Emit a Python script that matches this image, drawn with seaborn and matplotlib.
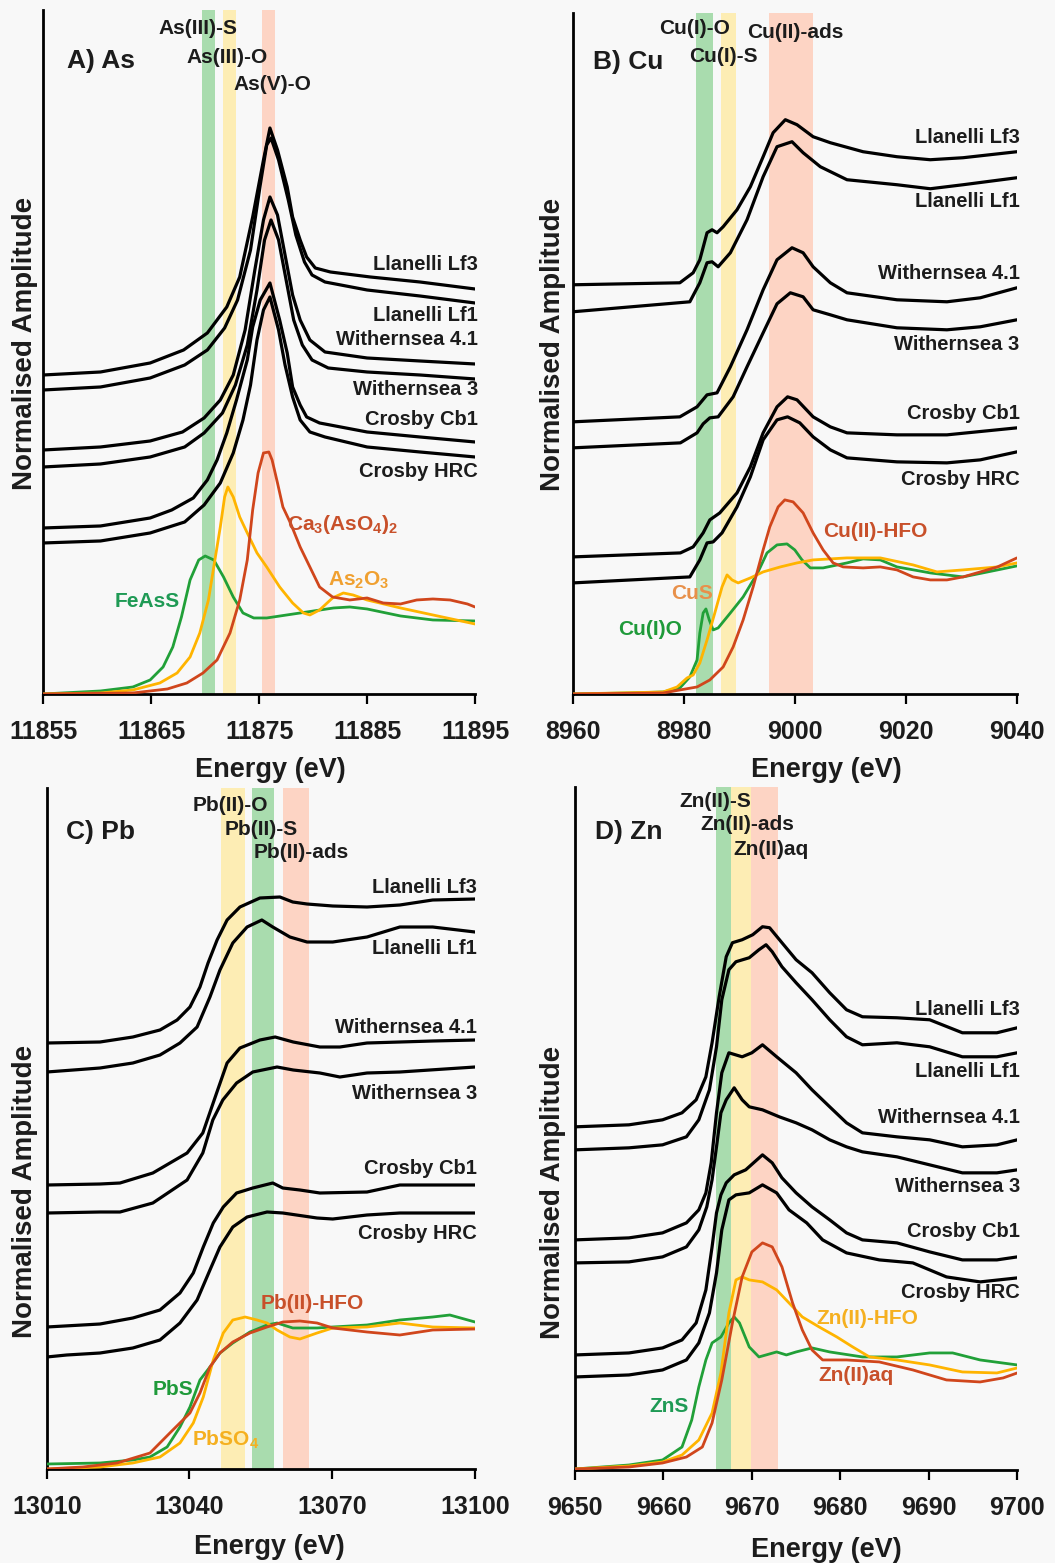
import matplotlib
matplotlib.use("Agg")
import matplotlib.pyplot as plt
import seaborn as sns

# ---------------- Panel A : As K-edge ----------------
AS_XTICKS = [11855, 11865, 11875, 11885, 11895]
AS_LF3_E = [11855, 11860.3, 11864.9, 11868.0, 11870.2, 11872.0, 11873.2, 11874.4, 11875.4, 11876.0, 11876.7, 11877.6, 11878.1, 11878.8, 11879.4, 11880.2, 11881.6, 11885.3, 11889.9, 11895]
AS_LF3_Y = [3.19, 3.22, 3.31, 3.44, 3.61, 3.87, 4.17, 4.77, 5.34, 5.66, 5.44, 5.07, 4.77, 4.54, 4.37, 4.26, 4.22, 4.17, 4.12, 4.05]
AS_LF1_E = [11855, 11860.3, 11864.9, 11868.1, 11870.2, 11871.8, 11873.0, 11874.2, 11875.1, 11875.7, 11876.1, 11876.8, 11877.7, 11878.4, 11879.2, 11879.9, 11881.1, 11885.0, 11889.9, 11895]
AS_LF1_Y = [3.04, 3.07, 3.16, 3.29, 3.44, 3.66, 3.94, 4.44, 5.09, 5.49, 5.56, 5.34, 4.94, 4.59, 4.32, 4.19, 4.12, 4.04, 3.98, 3.91]
AS_W41_E = [11855, 11860.3, 11864.9, 11867.9, 11869.9, 11871.4, 11872.6, 11873.7, 11874.6, 11875.4, 11876.0, 11876.7, 11877.4, 11878.1, 11878.8, 11879.7, 11881.1, 11885.0, 11889.9, 11895]
AS_W41_Y = [2.44, 2.47, 2.53, 2.62, 2.76, 2.94, 3.19, 3.64, 4.24, 4.74, 4.97, 4.79, 4.39, 3.99, 3.74, 3.54, 3.42, 3.36, 3.33, 3.30]
AS_W3_E = [11855, 11860.3, 11864.9, 11868.1, 11869.9, 11871.6, 11872.8, 11873.9, 11874.8, 11875.5, 11876.1, 11876.8, 11877.5, 11878.2, 11879.0, 11879.9, 11881.4, 11885.0, 11889.9, 11895]
AS_W3_Y = [2.27, 2.30, 2.37, 2.47, 2.61, 2.81, 3.09, 3.49, 4.04, 4.54, 4.74, 4.54, 4.14, 3.74, 3.49, 3.34, 3.26, 3.22, 3.19, 3.15]
AS_CB1_E = [11855, 11860.3, 11864.9, 11866.9, 11868.9, 11870.2, 11871.1, 11872.0, 11872.9, 11873.9, 11874.4, 11875.1, 11876.0, 11876.9, 11877.6, 11878.1, 11878.8, 11879.4, 11880.6, 11885.0, 11889.9, 11895]
AS_CB1_Y = [1.66, 1.68, 1.76, 1.84, 1.96, 2.14, 2.34, 2.61, 2.94, 3.34, 3.67, 3.94, 4.11, 3.74, 3.41, 3.07, 2.89, 2.77, 2.71, 2.62, 2.57, 2.52]
AS_HRC_E = [11855, 11860.3, 11864.9, 11868.1, 11869.9, 11871.4, 11872.6, 11873.5, 11874.2, 11874.8, 11875.4, 11876.0, 11876.8, 11877.4, 11878.1, 11878.8, 11879.7, 11881.1, 11885.0, 11889.9, 11895]
AS_HRC_Y = [1.51, 1.53, 1.61, 1.72, 1.89, 2.11, 2.41, 2.74, 3.09, 3.54, 3.84, 3.97, 3.64, 3.29, 2.97, 2.74, 2.62, 2.57, 2.47, 2.42, 2.37]
AS_FEASS_E = [11855, 11860.3, 11863.3, 11864.9, 11866.1, 11867.0, 11867.8, 11868.6, 11869.4, 11870.0, 11870.8, 11871.7, 11872.6, 11873.5, 11874.5, 11875.7, 11878.8, 11881.9, 11883.4, 11885.0, 11888.1, 11891.1, 11895]
AS_FEASS_Y = [0.00, 0.03, 0.07, 0.14, 0.27, 0.47, 0.77, 1.14, 1.34, 1.38, 1.34, 1.17, 0.97, 0.81, 0.76, 0.76, 0.81, 0.86, 0.87, 0.85, 0.78, 0.74, 0.73]
AS_AS2O3_E = [11855, 11860.3, 11863.3, 11865.8, 11867.4, 11868.6, 11869.5, 11870.3, 11870.9, 11871.4, 11871.8, 11872.1, 11872.6, 11873.2, 11873.9, 11874.8, 11875.7, 11876.9, 11878.1, 11879.1, 11879.7, 11880.6, 11881.8, 11882.8, 11883.7, 11885.0, 11888.1, 11891.1, 11895]
AS_AS2O3_Y = [0.00, 0.01, 0.04, 0.11, 0.21, 0.37, 0.61, 0.94, 1.34, 1.67, 1.97, 2.07, 1.97, 1.77, 1.61, 1.41, 1.27, 1.07, 0.91, 0.81, 0.79, 0.84, 0.96, 1.01, 0.99, 0.94, 0.86, 0.79, 0.70]
AS_CAAS_E = [11855, 11863.3, 11866.5, 11868.3, 11869.8, 11871.1, 11872.3, 11873.2, 11873.9, 11874.4, 11874.9, 11875.4, 11875.9, 11876.2, 11876.7, 11877.2, 11877.9, 11878.8, 11879.7, 11880.6, 11881.8, 11883.4, 11885.0, 11886.5, 11888.1, 11889.6, 11891.1, 11892.7, 11894.3, 11895]
AS_CAAS_Y = [0.00, 0.01, 0.05, 0.11, 0.21, 0.34, 0.61, 0.94, 1.34, 1.84, 2.21, 2.41, 2.42, 2.34, 2.11, 1.87, 1.71, 1.47, 1.27, 1.07, 0.97, 0.94, 0.96, 0.91, 0.90, 0.94, 0.95, 0.94, 0.90, 0.87]

# ---------------- Panel B : Cu K-edge ----------------
CU_XTICKS = [8960, 8980, 9000, 9020, 9040]
CU_LF3_E = [8960, 8979.3, 8981.7, 8982.9, 8984.2, 8985.1, 8986.0, 8987.1, 8989.6, 8992.0, 8994.3, 8996.1, 8998.3, 9000.4, 9003.3, 9006.4, 9012.3, 9018.4, 9024.4, 9030.3, 9040]
CU_LF3_Y = [4.09, 4.11, 4.21, 4.34, 4.61, 4.64, 4.61, 4.67, 4.84, 5.07, 5.37, 5.61, 5.74, 5.69, 5.57, 5.51, 5.42, 5.37, 5.34, 5.36, 5.42]
CU_LF1_E = [8960, 8981.1, 8982.9, 8984.2, 8985.1, 8986.2, 8988.4, 8991.4, 8994.3, 8996.8, 8999.5, 9001.5, 9004.6, 9009.4, 9018.4, 9024.4, 9030.3, 9040]
CU_LF1_Y = [3.82, 3.92, 4.11, 4.31, 4.32, 4.27, 4.41, 4.74, 5.17, 5.47, 5.52, 5.41, 5.27, 5.14, 5.09, 5.05, 5.09, 5.16]
CU_W41_E = [8960, 8979.3, 8982.4, 8984.2, 8986.0, 8988.4, 8991.4, 8994.3, 8996.8, 8999.5, 9001.5, 9003.3, 9006.4, 9009.4, 9018.4, 9027.4, 9033.4, 9040]
CU_W41_Y = [2.72, 2.77, 2.87, 2.99, 3.01, 3.27, 3.64, 4.04, 4.34, 4.46, 4.41, 4.27, 4.11, 4.01, 3.94, 3.92, 3.96, 4.06]
CU_W3_E = [8960, 8979.4, 8982.4, 8983.5, 8984.7, 8986.2, 8988.9, 8991.4, 8994.3, 8996.8, 8999.2, 9001.5, 9003.3, 9006.4, 9009.4, 9018.4, 9027.4, 9033.4, 9040]
CU_W3_Y = [2.46, 2.51, 2.61, 2.70, 2.76, 2.77, 2.97, 3.27, 3.61, 3.90, 4.01, 3.97, 3.84, 3.79, 3.74, 3.66, 3.64, 3.67, 3.74]
CU_CB1_E = [8960, 8979.4, 8981.7, 8983.5, 8984.7, 8986.5, 8989.6, 8992.0, 8994.3, 8996.8, 8998.7, 9000.4, 9003.3, 9006.4, 9009.4, 9018.4, 9027.4, 9040]
CU_CB1_Y = [1.37, 1.41, 1.47, 1.61, 1.74, 1.81, 2.01, 2.27, 2.61, 2.87, 2.97, 2.94, 2.77, 2.67, 2.61, 2.59, 2.59, 2.66]
CU_HRC_E = [8960, 8981.1, 8982.9, 8984.2, 8985.3, 8986.9, 8989.6, 8992.0, 8994.3, 8996.8, 8998.7, 9000.9, 9003.3, 9006.4, 9009.4, 9018.4, 9027.4, 9033.4, 9040]
CU_HRC_Y = [1.11, 1.17, 1.34, 1.51, 1.52, 1.61, 1.87, 2.17, 2.54, 2.74, 2.77, 2.71, 2.57, 2.44, 2.36, 2.32, 2.31, 2.34, 2.42]
CU_HFO_E = [8960, 8976.3, 8979.3, 8982.4, 8984.7, 8987.1, 8988.9, 8990.7, 8992.5, 8994.3, 8995.5, 8997.0, 8998.2, 8999.7, 9001.5, 9003.3, 9005.1, 9006.9, 9008.7, 9012.3, 9015.4, 9018.4, 9021.3, 9024.4, 9027.4, 9030.3, 9036.5, 9040]
CU_HFO_Y = [0.00, 0.01, 0.04, 0.07, 0.14, 0.27, 0.47, 0.74, 1.07, 1.44, 1.67, 1.87, 1.94, 1.92, 1.81, 1.61, 1.44, 1.31, 1.27, 1.26, 1.27, 1.24, 1.17, 1.14, 1.14, 1.17, 1.27, 1.36]
CU_CU2O_E = [8960, 8970.3, 8976.3, 8979.3, 8981.1, 8982.4, 8982.9, 8983.5, 8984.0, 8984.6, 8985.3, 8986.2, 8988.4, 8990.7, 8993.3, 8995.0, 8996.8, 8998.6, 9000.0, 9001.3, 9002.8, 9005.1, 9009.4, 9012.3, 9015.4, 9018.4, 9024.4, 9030.3, 9036.5, 9040]
CU_CU2O_Y = [0.00, 0.01, 0.02, 0.06, 0.17, 0.34, 0.61, 0.81, 0.85, 0.74, 0.64, 0.66, 0.81, 0.97, 1.21, 1.41, 1.49, 1.50, 1.44, 1.34, 1.26, 1.26, 1.31, 1.35, 1.34, 1.27, 1.21, 1.17, 1.24, 1.28]
CU_CUS_E = [8960, 8976.3, 8978.8, 8980.6, 8981.7, 8982.9, 8984.2, 8985.6, 8986.9, 8987.8, 8988.7, 8989.8, 8992.0, 8994.3, 8997.4, 9000.4, 9003.3, 9009.4, 9015.4, 9021.3, 9025.6, 9030.3, 9036.5, 9040]
CU_CUS_Y = [0.00, 0.02, 0.07, 0.16, 0.19, 0.31, 0.54, 0.81, 1.07, 1.19, 1.14, 1.11, 1.16, 1.22, 1.27, 1.31, 1.34, 1.36, 1.36, 1.29, 1.22, 1.24, 1.27, 1.31]

# ---------------- Panel C : Pb L3-edge ----------------
PB_XTICKS = [13010, 13040, 13070, 13100]
PB_LF3_E = [13010, 13021.2, 13028.1, 13033.8, 13037.4, 13040.1, 13042.2, 13043.9, 13045.8, 13047.9, 13050.6, 13054.8, 13059.0, 13061.7, 13064.7, 13070.1, 13077.3, 13084.2, 13091.1, 13100]
PB_LF3_Y = [4.26, 4.27, 4.32, 4.39, 4.49, 4.62, 4.82, 5.06, 5.29, 5.49, 5.62, 5.71, 5.72, 5.67, 5.65, 5.63, 5.62, 5.64, 5.69, 5.70]
PB_LF1_E = [13010, 13021.2, 13028.1, 13033.8, 13038.0, 13041.6, 13044.3, 13046.4, 13049.1, 13052.1, 13055.2, 13057.5, 13061.1, 13064.7, 13070.1, 13077.3, 13084.2, 13091.1, 13100]
PB_LF1_Y = [3.97, 4.01, 4.06, 4.14, 4.26, 4.42, 4.72, 4.99, 5.26, 5.42, 5.49, 5.42, 5.32, 5.27, 5.27, 5.32, 5.42, 5.42, 5.37]
PB_W41_E = [13010, 13021.2, 13025.4, 13032.3, 13039.5, 13042.8, 13045.7, 13047.9, 13050.6, 13054.8, 13058.0, 13061.8, 13067.4, 13071.6, 13077.3, 13084.2, 13091.1, 13100]
PB_W41_Y = [2.84, 2.85, 2.86, 2.96, 3.16, 3.36, 3.76, 4.06, 4.21, 4.29, 4.32, 4.27, 4.22, 4.22, 4.26, 4.27, 4.28, 4.29]
PB_W3_E = [13010, 13021.2, 13025.4, 13032.3, 13039.5, 13042.8, 13044.9, 13047.0, 13049.9, 13053.3, 13058.4, 13061.8, 13067.4, 13071.6, 13077.3, 13084.2, 13100]
PB_W3_Y = [2.56, 2.57, 2.57, 2.66, 2.89, 3.16, 3.49, 3.69, 3.86, 3.97, 4.02, 3.99, 3.96, 3.92, 3.96, 3.97, 4.02]
PB_CB1_E = [13010, 13021.2, 13028.1, 13033.8, 13038.0, 13040.8, 13042.9, 13045.0, 13047.1, 13049.9, 13053.3, 13057.5, 13059.6, 13063.2, 13067.4, 13077.3, 13084.2, 13100]
PB_CB1_Y = [1.42, 1.45, 1.51, 1.59, 1.76, 1.96, 2.22, 2.46, 2.62, 2.76, 2.81, 2.86, 2.81, 2.79, 2.76, 2.77, 2.84, 2.84]
PB_HRC_E = [13010, 13014.2, 13021.2, 13028.1, 13033.8, 13038.0, 13041.6, 13044.3, 13046.4, 13049.1, 13052.1, 13056.3, 13059.6, 13066.8, 13070.1, 13077.3, 13084.2, 13100]
PB_HRC_Y = [1.12, 1.14, 1.16, 1.21, 1.29, 1.46, 1.69, 1.99, 2.22, 2.42, 2.52, 2.57, 2.56, 2.51, 2.50, 2.54, 2.56, 2.56]
PB_PBS_E = [13010, 13021.2, 13028.1, 13031.7, 13035.3, 13038.0, 13040.1, 13042.2, 13044.3, 13046.4, 13049.1, 13052.7, 13056.3, 13058.4, 13061.7, 13066.8, 13070.1, 13077.3, 13084.2, 13091.1, 13094.7, 13100]
PB_PBS_Y = [0.05, 0.06, 0.09, 0.12, 0.22, 0.42, 0.62, 0.89, 1.02, 1.16, 1.26, 1.37, 1.44, 1.46, 1.41, 1.41, 1.42, 1.44, 1.49, 1.52, 1.54, 1.47]
PB_HFO_E = [13010, 13017.6, 13024.8, 13031.7, 13036.5, 13040.1, 13042.2, 13044.3, 13046.4, 13049.1, 13052.7, 13056.3, 13059.6, 13063.2, 13066.8, 13070.1, 13077.3, 13084.2, 13091.1, 13100]
PB_HFO_Y = [0.00, 0.02, 0.06, 0.16, 0.39, 0.56, 0.76, 1.02, 1.16, 1.27, 1.36, 1.42, 1.47, 1.48, 1.46, 1.41, 1.37, 1.34, 1.39, 1.40]
PB_PBSO4_E = [13010, 13021.2, 13028.1, 13033.8, 13038.0, 13040.8, 13042.9, 13045.0, 13047.1, 13049.1, 13051.7, 13054.2, 13056.3, 13058.4, 13061.1, 13063.2, 13066.8, 13070.1, 13077.3, 13084.2, 13091.1, 13100]
PB_PBSO4_Y = [0.00, 0.02, 0.06, 0.12, 0.26, 0.46, 0.72, 1.09, 1.36, 1.49, 1.52, 1.49, 1.46, 1.39, 1.32, 1.30, 1.36, 1.41, 1.42, 1.46, 1.42, 1.41]

# ---------------- Panel D : Zn K-edge ----------------
ZN_XTICKS = [9650, 9660, 9670, 9680, 9690, 9700]
ZN_LF3_E = [9650, 9656.1, 9659.9, 9662.1, 9663.7, 9664.8, 9665.5, 9666.3, 9667.1, 9667.8, 9668.9, 9670.1, 9671.2, 9672.0, 9673.4, 9675.0, 9676.8, 9678.8, 9680.7, 9682.5, 9686.4, 9690.1, 9693.8, 9697.7, 9700]
ZN_LF3_Y = [3.43, 3.45, 3.50, 3.57, 3.70, 3.93, 4.27, 4.73, 5.13, 5.27, 5.30, 5.35, 5.43, 5.42, 5.27, 5.10, 4.97, 4.77, 4.60, 4.53, 4.52, 4.50, 4.37, 4.37, 4.42]
ZN_LF1_E = [9650, 9656.1, 9659.9, 9662.6, 9664.0, 9665.2, 9666.0, 9666.6, 9667.4, 9668.2, 9669.7, 9670.8, 9671.6, 9672.3, 9673.4, 9675.0, 9676.8, 9678.8, 9680.7, 9682.5, 9686.4, 9690.1, 9693.8, 9697.7, 9700]
ZN_LF1_Y = [3.20, 3.22, 3.25, 3.33, 3.50, 3.80, 4.23, 4.70, 5.00, 5.08, 5.12, 5.20, 5.25, 5.18, 5.03, 4.87, 4.70, 4.50, 4.33, 4.25, 4.27, 4.23, 4.13, 4.13, 4.17]
ZN_W41_E = [9650, 9656.1, 9659.9, 9662.6, 9664.0, 9664.8, 9665.4, 9666.0, 9666.6, 9667.4, 9668.9, 9670.0, 9671.2, 9672.8, 9675.0, 9676.8, 9678.8, 9680.7, 9682.5, 9686.4, 9690.1, 9693.8, 9697.7, 9700]
ZN_W41_Y = [2.30, 2.32, 2.37, 2.47, 2.60, 2.77, 3.07, 3.57, 3.97, 4.17, 4.13, 4.17, 4.25, 4.13, 3.97, 3.80, 3.63, 3.47, 3.37, 3.33, 3.30, 3.23, 3.25, 3.30]
ZN_W3_E = [9650, 9656.1, 9659.9, 9662.6, 9664.0, 9664.9, 9665.5, 9666.0, 9666.5, 9667.1, 9668.0, 9668.9, 9669.7, 9671.2, 9673.1, 9675.0, 9676.8, 9678.8, 9680.7, 9682.5, 9686.4, 9690.1, 9693.8, 9697.7, 9700]
ZN_W3_Y = [2.07, 2.08, 2.13, 2.23, 2.40, 2.63, 2.90, 3.23, 3.57, 3.70, 3.82, 3.70, 3.63, 3.60, 3.53, 3.47, 3.40, 3.30, 3.23, 3.18, 3.13, 3.05, 2.97, 2.97, 3.00]
ZN_CB1_E = [9650, 9656.1, 9659.9, 9662.1, 9663.7, 9664.8, 9665.5, 9666.0, 9666.5, 9667.1, 9668.0, 9669.3, 9671.2, 9672.3, 9673.4, 9675.0, 9676.8, 9678.8, 9680.7, 9682.5, 9686.4, 9690.1, 9693.8, 9697.7, 9700]
ZN_CB1_Y = [1.15, 1.17, 1.22, 1.30, 1.47, 1.80, 2.23, 2.57, 2.75, 2.87, 2.95, 3.00, 3.15, 3.07, 2.92, 2.77, 2.63, 2.50, 2.37, 2.30, 2.27, 2.18, 2.10, 2.10, 2.13]
ZN_HRC_E = [9650, 9656.1, 9659.9, 9662.6, 9664.0, 9665.2, 9666.0, 9666.6, 9667.4, 9668.2, 9669.7, 9671.2, 9672.8, 9674.2, 9676.2, 9678.0, 9680.7, 9684.4, 9688.2, 9692.0, 9695.8, 9700]
ZN_HRC_Y = [0.93, 0.95, 1.00, 1.10, 1.27, 1.57, 1.97, 2.40, 2.70, 2.75, 2.77, 2.85, 2.77, 2.60, 2.47, 2.30, 2.17, 2.10, 2.07, 1.93, 1.88, 1.92]
ZN_AQ_E = [9650, 9656.1, 9659.9, 9662.6, 9664.4, 9665.5, 9666.6, 9667.8, 9668.9, 9670.0, 9671.2, 9672.3, 9673.4, 9674.6, 9675.7, 9676.8, 9678.0, 9680.7, 9684.4, 9688.2, 9692.0, 9695.8, 9698.4, 9700]
ZN_AQ_Y = [0.01, 0.03, 0.07, 0.13, 0.23, 0.47, 0.90, 1.47, 1.93, 2.18, 2.27, 2.23, 2.03, 1.67, 1.40, 1.20, 1.10, 1.10, 1.08, 1.00, 0.90, 0.88, 0.92, 0.97]
ZN_HFO_E = [9650, 9656.1, 9659.9, 9662.1, 9664.0, 9665.5, 9666.5, 9667.4, 9668.2, 9668.9, 9669.7, 9671.2, 9672.8, 9674.2, 9675.7, 9677.6, 9679.6, 9681.4, 9683.3, 9686.4, 9690.1, 9693.8, 9697.7, 9700]
ZN_HFO_Y = [0.01, 0.04, 0.08, 0.15, 0.30, 0.57, 0.97, 1.57, 1.90, 1.93, 1.90, 1.88, 1.80, 1.67, 1.53, 1.43, 1.33, 1.23, 1.13, 1.10, 1.05, 0.98, 0.97, 1.02]
ZN_ZNS_E = [9650, 9656.1, 9659.9, 9662.1, 9663.2, 9664.0, 9664.8, 9665.5, 9666.5, 9667.4, 9668.0, 9668.6, 9669.7, 9670.8, 9671.6, 9672.8, 9673.9, 9675.0, 9676.8, 9678.8, 9682.5, 9686.4, 9690.1, 9692.7, 9695.8, 9700]
ZN_ZNS_Y = [0.01, 0.05, 0.10, 0.23, 0.50, 0.83, 1.10, 1.27, 1.33, 1.47, 1.53, 1.47, 1.23, 1.13, 1.15, 1.18, 1.15, 1.18, 1.22, 1.18, 1.13, 1.13, 1.17, 1.17, 1.10, 1.05]

SAMPLE_NAMES = ["Llanelli Lf3", "Llanelli Lf1", "Withernsea 4.1", "Withernsea 3", "Crosby Cb1", "Crosby HRC"]

# ---------------- styling ----------------
BG = "#f8f8f8"
TXT = "#1c1c1c"
GREEN = "#21a038"
ORANGE = "#ffb400"
RED = "#d0461c"
B_GREEN = "#a9dcae"
B_YELLOW = "#fdedb4"
B_RED = "#fdd4c4"

sns.set_theme(style="ticks")
plt.rcParams["font.family"] = ["Liberation Sans", "DejaVu Sans"]
plt.rcParams["font.weight"] = "bold"
plt.rcParams["mathtext.fontset"] = "custom"
plt.rcParams["mathtext.rm"] = "Liberation Sans:bold"
plt.rcParams["mathtext.default"] = "rm"

panels = [
    dict(rect=[0.04104, 0.5560, 0.4092, 0.4376], xlim=(11855, 11895), ylim=6.84,
         xticks=AS_XTICKS, title=("A) As", 11860.35, 6.33),
         bands=[(11869.7, 11870.9, B_GREEN), (11871.65, 11872.9, B_YELLOW), (11875.3, 11876.5, B_RED)],
         band_labels=[("As(III)-S", 11869.3, 6.66), ("As(III)-O", 11872.0, 6.37), ("As(V)-O", 11876.2, 6.09)],
         samples=[(AS_LF3_E, AS_LF3_Y), (AS_LF1_E, AS_LF1_Y), (AS_W41_E, AS_W41_Y),
                  (AS_W3_E, AS_W3_Y), (AS_CB1_E, AS_CB1_Y), (AS_HRC_E, AS_HRC_Y)],
         sample_lx=11895.3, sample_ly=[4.29, 3.78, 3.54, 3.04, 2.74, 2.22],
         refs=[(AS_FEASS_E, AS_FEASS_Y, GREEN), (AS_AS2O3_E, AS_AS2O3_Y, ORANGE), (AS_CAAS_E, AS_CAAS_Y, RED)],
         ref_labels=[("FeAsS", 11864.6, 0.92, "#1f9a55"), ("As$_2$O$_3$", 11884.2, 1.14, "#f0a030"),
                     ("Ca$_3$(AsO$_4$)$_2$", 11882.7, 1.69, "#c8502a")],
         ylab=(-0.042, 0.513), xlab=(0.527, -0.111)),
    dict(rect=[0.5428, 0.5560, 0.4211, 0.4359], xlim=(8960, 9040), ylim=6.81,
         xticks=CU_XTICKS, title=("B) Cu", 8970.0, 6.32),
         bands=[(8982.2, 8985.3, B_GREEN), (8986.7, 8989.5, B_YELLOW), (8995.4, 9003.2, B_RED)],
         band_labels=[("Cu(I)-O", 8982.0, 6.65), ("Cu(I)-S", 8987.1, 6.37), ("Cu(II)-ads", 9000.1, 6.61)],
         samples=[(CU_LF3_E, CU_LF3_Y), (CU_LF1_E, CU_LF1_Y), (CU_W41_E, CU_W41_Y),
                  (CU_W3_E, CU_W3_Y), (CU_CB1_E, CU_CB1_Y), (CU_HRC_E, CU_HRC_Y)],
         sample_lx=9040.5, sample_ly=[5.56, 4.92, 4.20, 3.49, 2.80, 2.14],
         refs=[(CU_CU2O_E, CU_CU2O_Y, GREEN), (CU_CUS_E, CU_CUS_Y, ORANGE), (CU_HFO_E, CU_HFO_Y, RED)],
         ref_labels=[("Cu(I)O", 8973.9, 0.64, "#1f9a3a"), ("CuS", 8981.5, 1.00, "#e8904a"),
                     ("Cu(II)-HFO", 9014.5, 1.62, "#c8502a")],
         ylab=(-0.044, 0.513), xlab=(0.571, -0.111)),
    dict(rect=[0.04427, 0.06014, 0.4060, 0.4357], xlim=(13010, 13100), ylim=6.81,
         xticks=PB_XTICKS, title=("C) Pb", 13021.2, 6.37),
         bands=[(13046.6, 13051.7, B_YELLOW), (13053.2, 13057.8, B_GREEN), (13059.6, 13065.1, B_RED)],
         band_labels=[("Pb(II)-O", 13048.5, 6.64), ("Pb(II)-S", 13055.0, 6.40), ("Pb(II)-ads", 13063.4, 6.17)],
         samples=[(PB_LF3_E, PB_LF3_Y), (PB_LF1_E, PB_LF1_Y), (PB_W41_E, PB_W41_Y),
                  (PB_W3_E, PB_W3_Y), (PB_CB1_E, PB_CB1_Y), (PB_HRC_E, PB_HRC_Y)],
         sample_lx=13100.4, sample_ly=[5.82, 5.21, 4.42, 3.76, 3.01, 2.36],
         refs=[(PB_PBS_E, PB_PBS_Y, GREEN), (PB_PBSO4_E, PB_PBSO4_Y, ORANGE), (PB_HFO_E, PB_HFO_Y, RED)],
         ref_labels=[("PbS", 13036.5, 0.80, "#1f9a3a"), ("PbSO$_4$", 13047.5, 0.29, "#f5b020"),
                     ("Pb(II)-HFO", 13065.7, 1.66, "#c8502a")],
         ylab=(-0.051, 0.407), xlab=(0.519, -0.115)),
    dict(rect=[0.5450, 0.0595, 0.4192, 0.4372], xlim=(9650, 9700), ylim=6.83,
         xticks=ZN_XTICKS, title=("D) Zn", 9656.1, 6.38),
         bands=[(9666.0, 9667.6, B_GREEN), (9667.6, 9669.9, B_YELLOW), (9669.9, 9672.9, B_RED)],
         band_labels=[("Zn(II)-S", 9665.9, 6.68), ("Zn(II)-ads", 9669.5, 6.45), ("Zn(II)aq", 9672.2, 6.20)],
         samples=[(ZN_LF3_E, ZN_LF3_Y), (ZN_LF1_E, ZN_LF1_Y), (ZN_W41_E, ZN_W41_Y),
                  (ZN_W3_E, ZN_W3_Y), (ZN_CB1_E, ZN_CB1_Y), (ZN_HRC_E, ZN_HRC_Y)],
         sample_lx=9700.3, sample_ly=[4.60, 3.98, 3.52, 2.83, 2.38, 1.77],
         refs=[(ZN_ZNS_E, ZN_ZNS_Y, GREEN), (ZN_HFO_E, ZN_HFO_Y, ORANGE), (ZN_AQ_E, ZN_AQ_Y, RED)],
         ref_labels=[("ZnS", 9660.6, 0.63, "#1f9a55"), ("Zn(II)-HFO", 9683.0, 1.51, "#f5b020"),
                     ("Zn(II)aq", 9681.8, 0.94, "#c8502a")],
         ylab=(-0.050, 0.406), xlab=(0.568, -0.117)),
]

fig = plt.figure(figsize=(10.55, 15.63), dpi=100, facecolor=BG)

for p in panels:
    ax = fig.add_axes(p["rect"])
    ax.set_facecolor("none")
    for lo, hi, c in p["bands"]:
        ax.axvspan(lo, hi, color=c, lw=0, zorder=0)
    for e, y, c in p["refs"]:
        sns.lineplot(x=e, y=y, ax=ax, color=c, lw=2.0, estimator=None, sort=False, zorder=3)
    for e, y in p["samples"]:
        sns.lineplot(x=e, y=y, ax=ax, color="black", lw=2.3, estimator=None, sort=False, zorder=4)
    ax.set_xlim(*p["xlim"])
    ax.set_ylim(0, p["ylim"])
    ax.set_xticks(p["xticks"])
    ax.set_xticklabels([str(t) for t in p["xticks"]])
    ax.set_yticks([])
    sns.despine(ax=ax)
    for s in ("left", "bottom"):
        ax.spines[s].set_linewidth(2.0)
        ax.spines[s].set_color("black")
    ax.tick_params(axis="x", length=7, width=1.6, direction="out", labelsize=18,
                   pad=12, colors="black", labelcolor=TXT)
    for t in ax.get_xticklabels():
        t.set_fontweight("bold")
    ax.set_xlabel("Energy (eV)", fontsize=19.5, fontweight="bold", color=TXT)
    ax.xaxis.set_label_coords(*p["xlab"])
    ax.xaxis.label.set_verticalalignment("center")
    ax.set_ylabel("Normalised Amplitude", fontsize=20, fontweight="bold", color=TXT)
    ax.yaxis.set_label_coords(*p["ylab"])
    ax.yaxis.label.set_verticalalignment("center")

    tt, tx, ty = p["title"]
    ax.text(tx, ty, tt, fontsize=19, fontweight="bold", color=TXT, ha="center", va="center")
    for s, bx, by in p["band_labels"]:
        ax.text(bx, by, s, fontsize=15, fontweight="bold", color=TXT, ha="center", va="center", zorder=6)
    for name, ly in zip(SAMPLE_NAMES, p["sample_ly"]):
        ax.text(p["sample_lx"], ly, name, fontsize=14.5, fontweight="bold", color=TXT,
                ha="right", va="center", zorder=6)
    for s, lx, ly, c in p["ref_labels"]:
        ax.text(lx, ly, s, fontsize=15, fontweight="bold", color=c, ha="center", va="center", zorder=6)

fig.savefig("out.png", dpi=100, facecolor=BG)
